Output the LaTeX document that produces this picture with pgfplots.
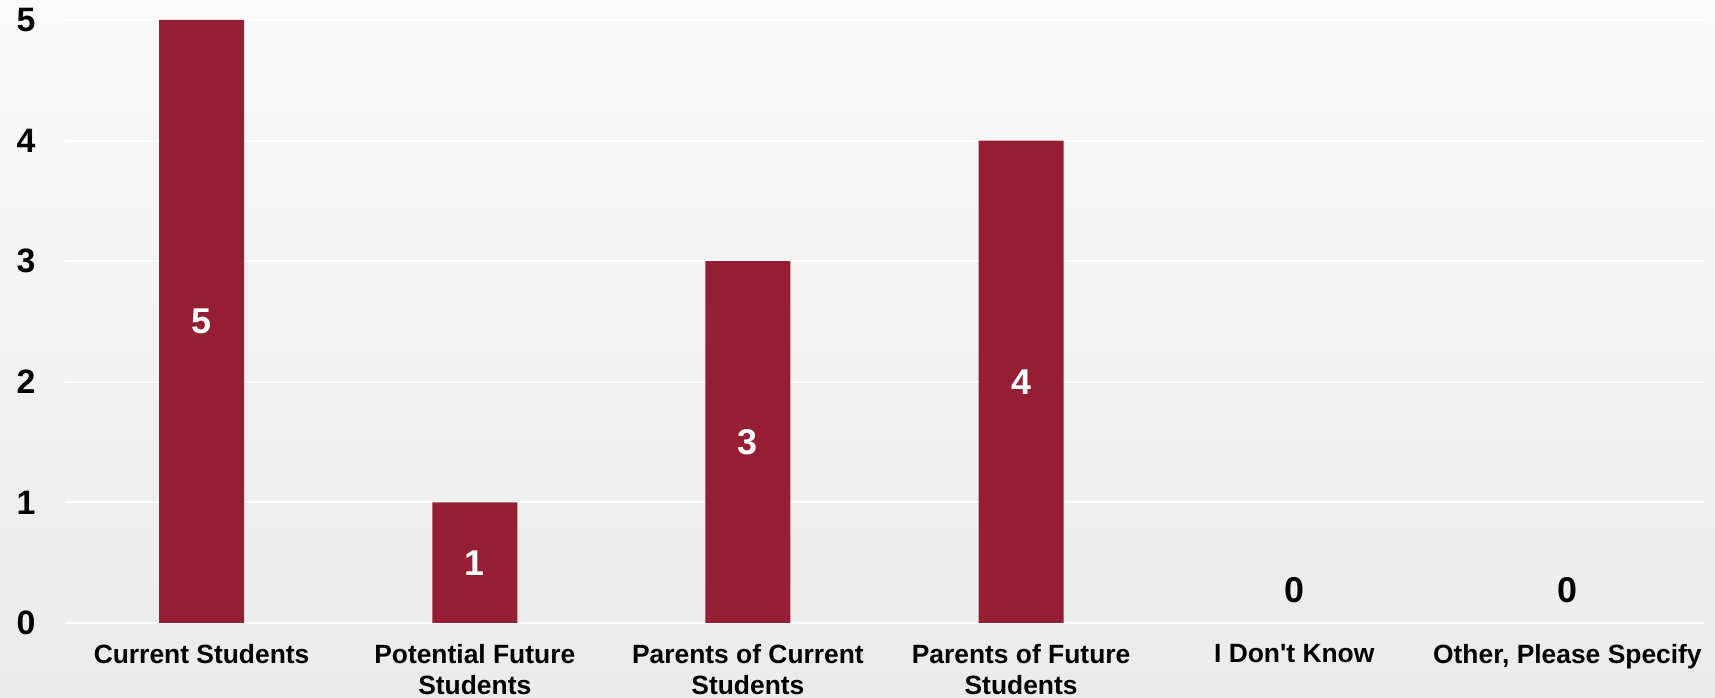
\documentclass[border=0pt]{standalone}
\usepackage{pgfplots}
\pgfplotsset{compat=1.18}
\usepackage{fontspec}
\defaultfontfeatures[\rmfamily]{}
\setmainfont{Liberation Sans}
\definecolor{barred}{HTML}{961E32}
\definecolor{bgtop}{HTML}{FAFAFA}
\definecolor{bgbot}{HTML}{EBEBEB}
\begin{document}
\begin{tikzpicture}[x=1bp,y=1bp]
\path[use as bounding box] (0,0) rectangle (1715,698);
\shade[top color=bgtop, bottom color=bgbot] (0,0) rectangle (1715,698);
\begin{axis}[
  at={(65bp,75bp)}, anchor=south west,
  scale only axis, width=1639bp, height=603bp,
  xmin=-0.5, xmax=5.5, ymin=0, ymax=5,
  axis line style={draw=none},
  major tick length=0pt,
  ytick={0,1,2,3,4,5},
  ymajorgrids, grid style={white, line width=2bp},
  xtick={0,1,2,3,4,5},
  xticklabels={Current Students, Potential Future\\Students, Parents of Current\\Students, Parents of Future\\Students, I Don't Know, {Other, Please Specify}},
  xticklabel style={align=center, font=\fontsize{26.5}{31}\selectfont\bfseries, yshift=-18bp},
  yticklabel style={font=\fontsize{34}{36}\selectfont\bfseries, xshift=-26bp},
  /pgf/number format/assume math mode=true,
  clip=false,
]
\addplot[ybar, bar width=85bp, fill=barred, draw=none, restrict y to domain=0.001:10] coordinates {(0,5) (1,1) (2,3) (3,4) (4,0) (5,0)};
\addplot[draw=none, mark=none, nodes near coords, point meta=explicit symbolic,
  nodes near coords style={white, anchor=center, font=\fontsize{36}{36}\selectfont\bfseries}]
  table[meta=l] {
x y l
0 2.5 5
1 0.5 1
2 1.5 3
3 2.0 4
};
\addplot[draw=none, mark=none, nodes near coords, point meta=explicit symbolic,
  nodes near coords style={black, anchor=center, font=\fontsize{36}{36}\selectfont\bfseries}]
  table[meta=l] {
x y l
4 0.27 0
5 0.27 0
};
\end{axis}
\end{tikzpicture}
\end{document}
